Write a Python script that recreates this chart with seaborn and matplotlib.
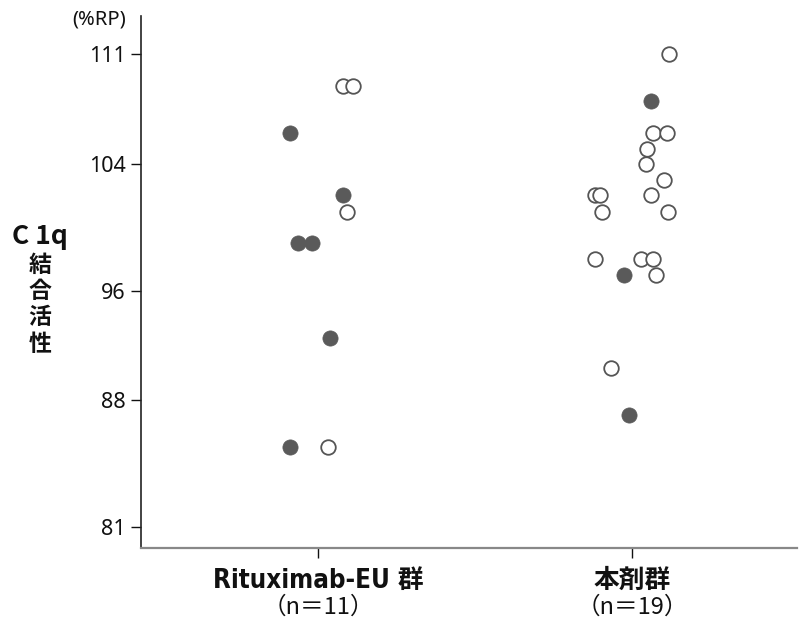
import matplotlib
matplotlib.use("Agg")
import matplotlib.pyplot as plt
import seaborn as sns
import pandas as pd

sns.set_theme(style="ticks")
plt.rcParams['font.family'] = ['Noto Sans CJK JP', 'DejaVu Sans']

# ---- data ----
group_labels = ["Rituximab-EU 群", "本剤群"]
group_n = ["（n＝11）", "（n＝19）"]

ritux_values = [105.97, 108.99, 108.99, 102.05, 100.99, 99.0, 99.0, 92.97, 86.05, 86.05]
ritux_filled = [1, 0, 0, 1, 0, 1, 1, 1, 1, 0]
ritux_offset = [-0.089, 0.080, 0.111, 0.080, 0.092, -0.064, -0.019, 0.038, -0.089, 0.032]

drug_values = [111.0, 108.02, 105.97, 105.97, 104.97, 104.02, 103.0, 102.05, 102.05, 102.05,
               100.99, 100.99, 98.03, 98.03, 98.03, 96.97, 96.97, 91.06, 88.08]
drug_filled = [0, 1, 0, 0, 0, 0, 0, 0, 0, 0, 0, 0, 0, 0, 0, 1, 0, 0, 1]
drug_offset = [0.118, 0.061, 0.067, 0.111, 0.047, 0.045, 0.102, -0.117, -0.101, 0.060,
               -0.095, 0.113, -0.117, 0.027, 0.065, -0.025, 0.076, -0.067, -0.010]

ytick_pos = [81, 89.03, 96, 104, 111]
ytick_labels = ["81", "88", "96", "104", "111"]

# ---- build table ----
rows = []
for gi, (vals, fl, off) in enumerate([(ritux_values, ritux_filled, ritux_offset),
                                       (drug_values, drug_filled, drug_offset)]):
    for v, f, o in zip(vals, fl, off):
        rows.append({"x": gi + o, "value": v, "filled": f})
df = pd.DataFrame(rows)

fig = plt.figure(figsize=(8, 6.22), dpi=100)
ax = fig.add_axes([0.17625, 0.119, 0.82, 0.855])

sns.scatterplot(data=df[df.filled == 0], x="x", y="value", ax=ax, s=110,
                facecolor="white", edgecolor="#555555", linewidth=1.3, zorder=3)
sns.scatterplot(data=df[df.filled == 1], x="x", y="value", ax=ax, s=120,
                color="#5a5a5a", edgecolor="#5a5a5a", linewidth=0.5, zorder=4)

ax.set_xlim(-0.564, 1.525)
ax.set_ylim(79.67, 113.4)
ax.set_yticks(ytick_pos)
ax.set_yticklabels(ytick_labels, fontsize=15.5, color="#111111",
                   family=['Noto Sans', 'DejaVu Sans'])
ax.set_xticks([0, 1])
ax.set_xticklabels([])
ax.tick_params(axis="y", length=7, width=1.0, color="#111111", pad=4)
ax.tick_params(axis="x", length=7, width=1.0, color="#111111")
ax.set_xlabel("")
ax.set_ylabel("")

sns.despine(ax=ax)
ax.spines["left"].set_color("#222222")
ax.spines["left"].set_linewidth(1.2)
ax.spines["bottom"].set_color("#888888")
ax.spines["bottom"].set_linewidth(1.6)

# x labels
for i, (lab, n) in enumerate(zip(group_labels, group_n)):
    ax.annotate(lab, xy=(i, 0), xycoords=("data", "axes fraction"),
                xytext=(0, -24), textcoords="offset points",
                ha="center", va="center", fontsize=18.5, fontweight="bold",
                fontstretch="condensed",
                family=['DejaVu Sans', 'Noto Sans CJK JP'], color="#111111")
    ax.annotate(n, xy=(i, 0), xycoords=("data", "axes fraction"),
                xytext=(0, -42.5), textcoords="offset points",
                ha="center", va="center", fontsize=17, color="#111111")

# y label
fig.text(0.050, 0.619, "C 1q", fontsize=19, fontweight="bold",
         family=['Noto Sans CJK JP', 'DejaVu Sans'],
         ha="center", va="center", color="#111111")
for k, ch in enumerate("結合活性"):
    fig.text(0.050, 0.574 - k * 0.0425, ch, fontsize=16.5, fontweight="bold",
             ha="center", va="center", color="#111111")
fig.text(0.124, 0.968, "(%RP)", fontsize=14.5, family=['Noto Sans', 'DejaVu Sans'],
         ha="center", va="center", color="#111111")

fig.savefig("out.png", dpi=100)
